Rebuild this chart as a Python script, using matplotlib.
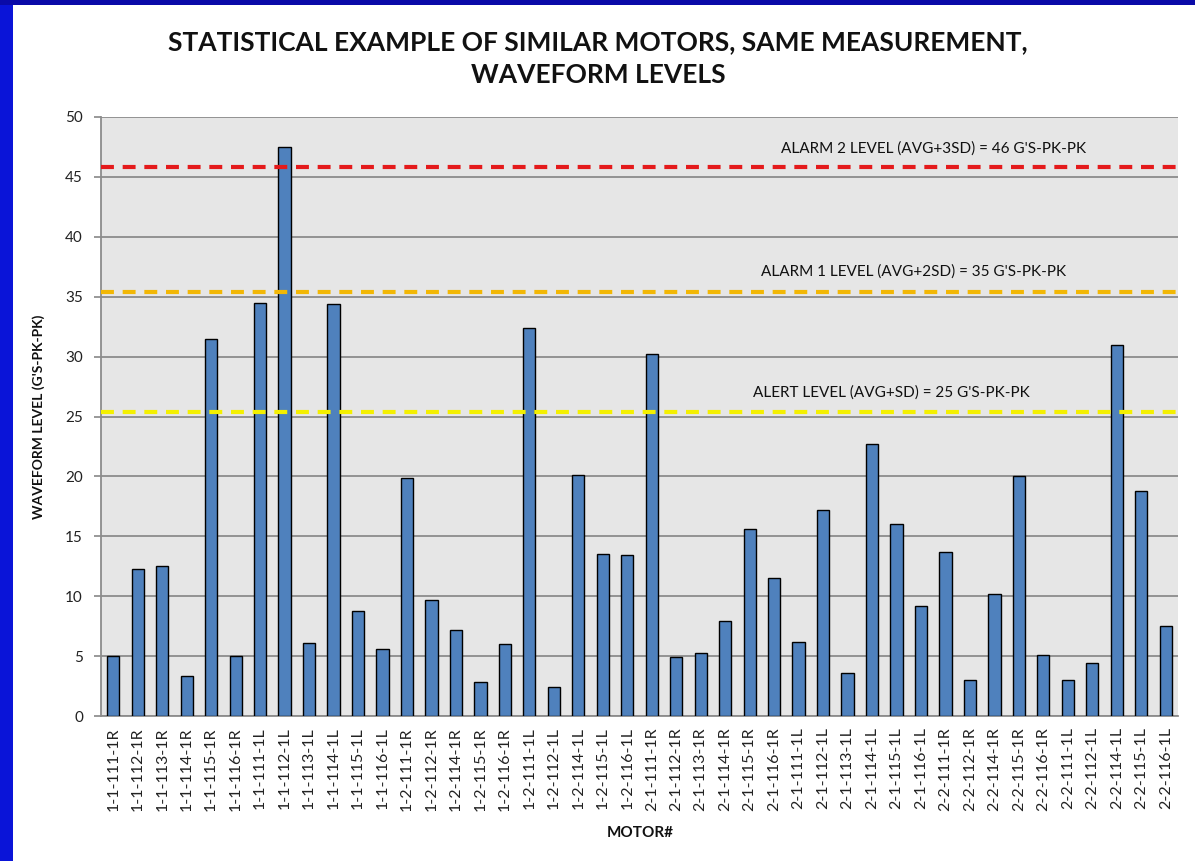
import matplotlib
matplotlib.use("Agg")
import matplotlib.pyplot as plt
from matplotlib.patches import Rectangle

motors = ["1-1-111-1R", "1-1-112-1R", "1-1-113-1R", "1-1-114-1R", "1-1-115-1R", "1-1-116-1R",
          "1-1-111-1L", "1-1-112-1L", "1-1-113-1L", "1-1-114-1L", "1-1-115-1L", "1-1-116-1L",
          "1-2-111-1R", "1-2-112-1R", "1-2-114-1R", "1-2-115-1R", "1-2-116-1R",
          "1-2-111-1L", "1-2-112-1L", "1-2-114-1L", "1-2-115-1L", "1-2-116-1L",
          "2-1-111-1R", "2-1-112-1R", "2-1-113-1R", "2-1-114-1R", "2-1-115-1R", "2-1-116-1R",
          "2-1-111-1L", "2-1-112-1L", "2-1-113-1L", "2-1-114-1L", "2-1-115-1L", "2-1-116-1L",
          "2-2-111-1R", "2-2-112-1R", "2-2-114-1R", "2-2-115-1R", "2-2-116-1R",
          "2-2-111-1L", "2-2-112-1L", "2-2-114-1L", "2-2-115-1L", "2-2-116-1L"]
levels = [5.0, 12.3, 12.5, 3.3, 31.5, 5.0,
          34.5, 47.5, 6.1, 34.4, 8.8, 5.6,
          19.9, 9.7, 7.2, 2.8, 6.0,
          32.4, 2.4, 20.1, 13.5, 13.4,
          30.2, 4.9, 5.3, 7.9, 15.6, 11.5,
          6.2, 17.2, 3.6, 22.7, 16.0, 9.2,
          13.7, 3.0, 10.2, 20.0, 5.1,
          3.0, 4.4, 31.0, 18.8, 7.5]
alarm_levels = [45.8, 35.4, 25.4]
alarm_labels = ["ALARM 2 LEVEL (AVG+3SD) = 46 G'S-PK-PK",
                "ALARM 1 LEVEL (AVG+2SD) = 35 G'S-PK-PK",
                "ALERT LEVEL (AVG+SD) = 25 G'S-PK-PK"]
alarm_colors = ["#e41a1c", "#f2b705", "#f4f000"]
label_x = [33.5, 32.7, 31.8]
label_y = [47.4, 37.1, 27.0]
yticks = [0, 5, 10, 15, 20, 25, 30, 35, 40, 45, 50]

plt.rcParams['font.family'] = ['Lato', 'DejaVu Sans']

W, H = 1195, 861
fig = plt.figure(figsize=(W / 100, H / 100), dpi=100)
fig.patch.set_facecolor("white")

# blue slide border
fig.patches.append(Rectangle((0, 0), 13 / W, 1, transform=fig.transFigure,
                             facecolor="#0a14d8", edgecolor="none", zorder=0))
fig.patches.append(Rectangle((0, 1 - 5 / H), 1, 5 / H, transform=fig.transFigure,
                             facecolor="#0a0aa8", edgecolor="none", zorder=0))

ax = fig.add_axes([101 / W, 1 - 716 / H, (1178 - 101) / W, (716 - 117) / H])
ax.set_facecolor("#e6e6e6")

x = list(range(len(motors)))
ax.bar(x, levels, width=0.5, color="#4f81bd", edgecolor="black", linewidth=1.0, zorder=3)

for lvl, col in zip(alarm_levels, alarm_colors):
    ax.plot([-0.5, len(motors) - 0.5], [lvl, lvl], color=col, linewidth=3,
            dashes=(3.1, 2.1), zorder=4, solid_capstyle="butt", dash_capstyle="butt")
for lx, ly, txt in zip(label_x, label_y, alarm_labels):
    ax.text(lx, ly, txt, ha="center", va="center", fontsize=11, color="#111111", zorder=5)

ax.set_xlim(-0.5, len(motors) - 0.5)
ax.set_ylim(0, 50)
ax.set_yticks(yticks)
ax.set_yticklabels([str(v) for v in yticks], fontsize=11, color="#222222")
ax.set_xticks(x)
ax.set_xticklabels(motors, rotation=90, fontsize=11.5, color="#222222")
ax.tick_params(axis="x", length=0, pad=8)
ax.tick_params(axis="y", length=5, color="#888888", pad=8, width=1.2)
ax.yaxis.grid(True, color="#8c8c8c", linewidth=1.3, zorder=1)
ax.set_axisbelow(True)
for s in ["top", "right"]:
    ax.spines[s].set_visible(False)
ax.spines["left"].set_color("#8c8c8c")
ax.spines["left"].set_linewidth(1.3)
ax.spines["bottom"].set_color("#8c8c8c")
ax.spines["bottom"].set_linewidth(1.3)

ax.set_ylabel("WAVEFORM LEVEL (G'S-PK-PK)", fontsize=10, fontweight="bold", color="#111111")
ax.yaxis.set_label_coords((45 - 101) / (1178 - 101), 0.5)

fig.text(640 / W, 1 - 833 / H, "MOTOR#", ha="center", va="center", fontsize=11,
         fontweight="bold", color="#111111")
fig.text(598 / W, 1 - 42 / H, "STATISTICAL EXAMPLE OF SIMILAR MOTORS, SAME MEASUREMENT,",
         ha="center", va="center", fontsize=19, fontweight="bold", color="#111111")
fig.text(598 / W, 1 - 75 / H, "WAVEFORM LEVELS",
         ha="center", va="center", fontsize=19, fontweight="bold", color="#111111")

fig.savefig("out.png", dpi=100)
